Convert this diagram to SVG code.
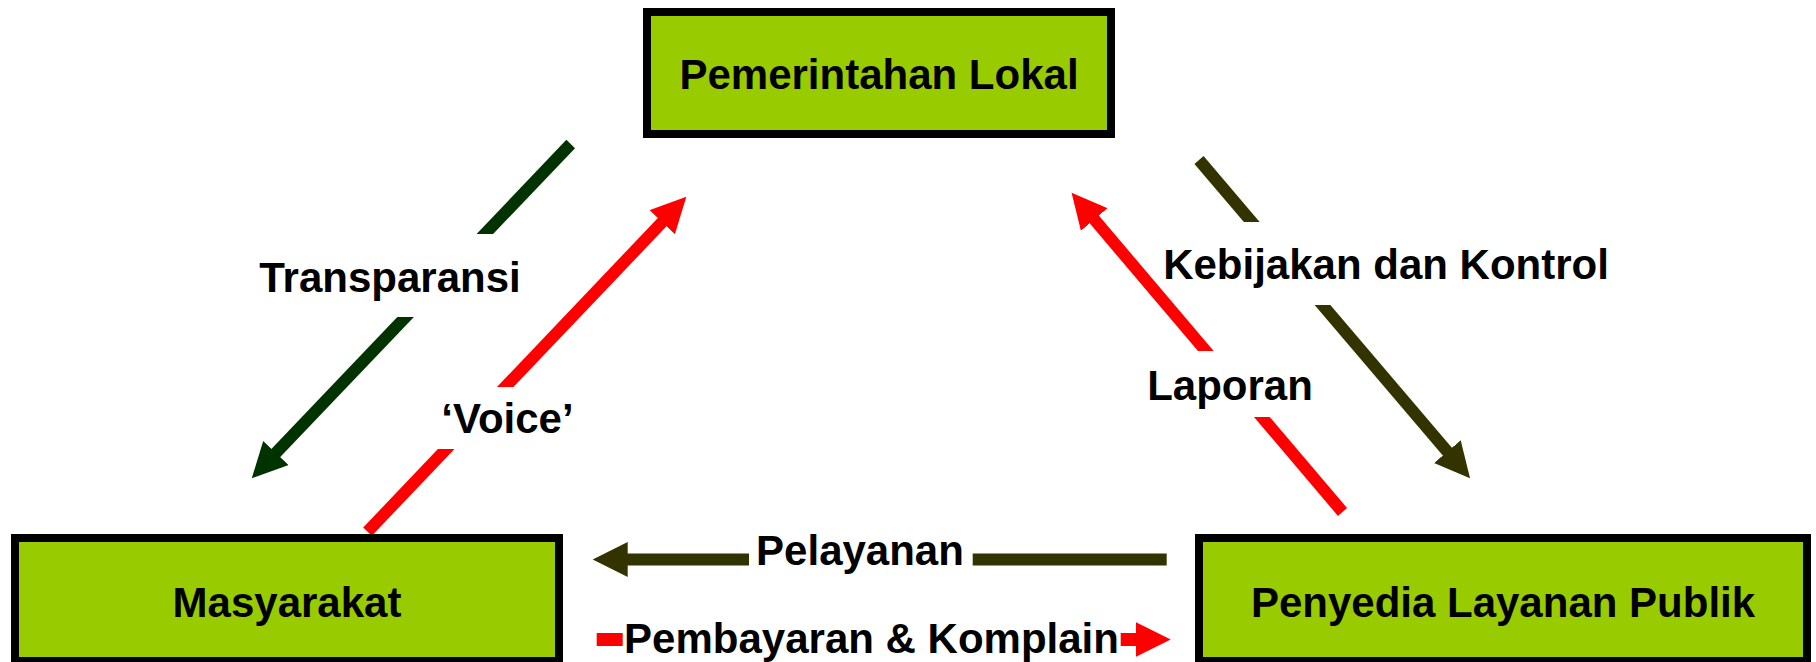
<svg xmlns="http://www.w3.org/2000/svg" width="1816" height="662" viewBox="0 0 1816 662">
  <style>
    .box { fill: #99CC00; stroke: #000000; stroke-width: 8; }
    .lbl { font-family: "Liberation Sans", Arial, sans-serif; font-weight: bold; font-size: 42px; fill: #000000; text-anchor: middle; }
    .bg { fill: #FFFFFF; stroke: none; }
    .c { fill: none; stroke-width: 12; stroke-linecap: butt; }
    .green { stroke: #003300; }
    .olive { stroke: #333300; }
    .red { stroke: #FF0000; }
  </style>
  <defs>
    <marker id="ah-green" markerUnits="userSpaceOnUse" markerWidth="36" markerHeight="36" refX="1" refY="17.5" orient="auto">
      <path d="M0,0 L35,17.5 L0,35 Z" fill="#003300"/>
    </marker>
    <marker id="ah-olive" markerUnits="userSpaceOnUse" markerWidth="36" markerHeight="36" refX="1" refY="17.5" orient="auto">
      <path d="M0,0 L35,17.5 L0,35 Z" fill="#333300"/>
    </marker>
    <marker id="ah-red" markerUnits="userSpaceOnUse" markerWidth="36" markerHeight="36" refX="1" refY="17.5" orient="auto">
      <path d="M0,0 L35,17.5 L0,35 Z" fill="#FF0000"/>
    </marker>
  </defs>
  <rect width="1816" height="662" fill="#FFFFFF"/>

  <g id="connectors">
    <path id="c-transparansi" class="c green" d="M570.7,144 L275.2,453.7" marker-end="url(#ah-green)"/>
    <path id="c-voice" class="c red" d="M367.5,531.7 L662.9,221.4" marker-end="url(#ah-red)"/>
    <path id="c-kebijakan" class="c olive" d="M1199,160 L1448,452.4" marker-end="url(#ah-olive)"/>
    <path id="c-laporan" class="c red" d="M1342.5,512 L1093.6,218.7" marker-end="url(#ah-red)"/>
    <path id="c-pelayanan" class="c olive" d="M1166.7,559.5 L626.7,559.5" marker-end="url(#ah-olive)"/>
    <path id="c-pembayaran" class="c red" style="stroke-width:13" d="M596.7,639.5 L1136.7,639.5" marker-end="url(#ah-red)"/>
  </g>

  <g id="connector-labels">
    <g id="lbl-transparansi">
      <rect class="bg" x="250" y="234" width="280" height="83"/>
      <text class="lbl" x="390" y="292">Transparansi</text>
    </g>
    <g id="lbl-voice">
      <rect class="bg" x="430" y="387" width="150" height="62"/>
      <text class="lbl" x="507.5" y="433">‘Voice’</text>
    </g>
    <g id="lbl-kebijakan">
      <rect class="bg" x="1175" y="222" width="440" height="83"/>
      <text class="lbl" x="1386" y="279">Kebijakan dan Kontrol</text>
    </g>
    <g id="lbl-laporan">
      <rect class="bg" x="1140" y="351" width="180" height="66"/>
      <text class="lbl" x="1230" y="400">Laporan</text>
    </g>
    <g id="lbl-pelayanan">
      <rect class="bg" x="749" y="535" width="223.7" height="45"/>
      <text class="lbl" x="860" y="565">Pelayanan</text>
    </g>
    <g id="lbl-pembayaran">
      <rect class="bg" x="622.7" y="625" width="498" height="37"/>
      <text class="lbl" x="871.5" y="653">Pembayaran &amp; Komplain</text>
    </g>
  </g>

  <g id="node-pemerintahan">
    <rect class="box" x="647" y="12" width="464" height="122"/>
    <text class="lbl" x="879" y="89">Pemerintahan Lokal</text>
  </g>
  <g id="node-masyarakat">
    <rect class="box" x="15" y="538" width="544" height="123"/>
    <text class="lbl" x="287" y="616.5">Masyarakat</text>
  </g>
  <g id="node-penyedia">
    <rect class="box" x="1199" y="538" width="608" height="123"/>
    <text class="lbl" x="1503" y="617">Penyedia Layanan Publik</text>
  </g>
</svg>
